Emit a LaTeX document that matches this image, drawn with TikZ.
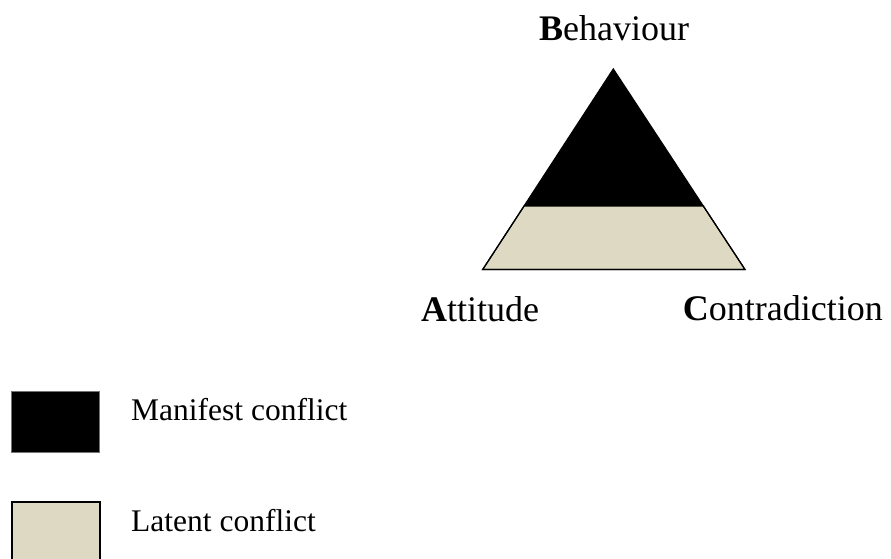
\documentclass[tikz,border=0pt]{standalone}
\usepackage{fontspec}
\setmainfont{Liberation Serif}
\definecolor{latent}{HTML}{DDD9C3}
\begin{document}
\begin{tikzpicture}[x=1pt,y=-1pt,
  cornerlabel/.style={inner sep=0pt, font=\fontsize{36}{40}\selectfont},
  legendtext/.style={inner sep=0pt, anchor=base west, font=\fontsize{31.5}{36}\selectfont},
  swatch/.style={draw, line width=1.2pt, minimum width=88pt, minimum height=61pt, anchor=north west, inner sep=0pt}]
\useasboundingbox (0,0) rectangle (891,559);
\clip (0,0) rectangle (891,559);

% triangle corners and the band boundary
\coordinate (apex) at (613.3,69);
\coordinate (bl) at (482.7,269.5);
\coordinate (br) at (745,269.5);
\coordinate (sl) at (524.1,206);
\coordinate (sr) at (703.3,206);

% manifest (upper) and latent (lower) parts
\fill[black] (apex) -- (sl) -- (sr) -- cycle;
\filldraw[fill=latent, line width=1.2pt] (sl) -- (bl) -- (br) -- (sr) -- cycle;
\draw[line width=1.2pt, line join=miter] (apex) -- (bl) -- (br) -- cycle;

% corner labels
\node[cornerlabel, anchor=base west] (beh) at (539,41) {\textbf{B}ehaviour};
\node[cornerlabel, anchor=base west] (att) at (421,321) {\textbf{A}ttitude};
\node[cornerlabel, anchor=base east] (con) at (883,320) {\textbf{C}ontradiction};

% legend
\node[swatch, fill=black, draw=black!55] (mbox) at (10.7,390.7) {};
\node[legendtext] (mtext) at (131,420) {Manifest conflict};
\node[swatch, fill=latent, draw=black, line width=2pt] (lbox) at (10.7,501) {};
\node[legendtext] (ltext) at (131,531) {Latent conflict};
\end{tikzpicture}
\end{document}
